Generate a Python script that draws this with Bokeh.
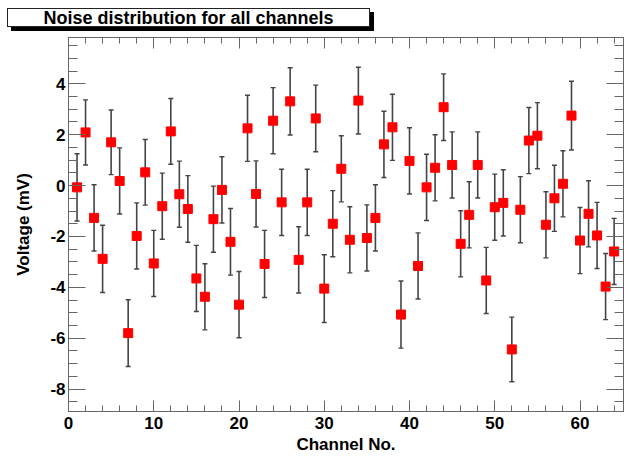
from bokeh.plotting import figure
from bokeh.layouts import column
from bokeh.models import (ColumnDataSource, Whisker, TeeHead, LinearAxis, SingleIntervalTicker,
                          Range1d, CustomJSTickFormatter, Div)
from bokeh.embed import file_html
from bokeh.resources import INLINE

# ---- data ----
channels = list(range(1, 65))
voltage = [-0.07, 2.09, -1.27, -2.88, 1.70, 0.18, -5.80, -1.98, 0.52, -3.06,
           -0.81, 2.13, -0.34, -0.92, -3.65, -4.37, -1.32, -0.17, -2.21, -4.68,
           2.25, -0.33, -3.08, 2.55, -0.66, 3.31, -2.92, -0.66, 2.64, -4.05,
           -1.50, 0.66, -2.13, 3.34, -2.06, -1.27, 1.62, 2.29, -5.07, 0.97,
           -3.16, -0.07, 0.70, 3.08, 0.81, -2.29, -1.15, 0.81, -3.73, -0.85,
           -0.68, -6.44, -0.95, 1.77, 1.96, -1.54, -0.50, 0.07, 2.75, -2.16,
           -1.11, -1.96, -3.97, -2.59]
errors = [1.32, 1.28, 1.30, 1.32, 1.27, 1.30, 1.31, 1.30, 1.29, 1.30,
          1.30, 1.29, 1.30, 1.31, 1.30, 1.30, 1.30, 1.30, 1.31, 1.30,
          1.30, 1.30, 1.32, 1.30, 1.30, 1.32, 1.30, 1.30, 1.31, 1.33,
          1.30, 1.30, 1.30, 1.31, 1.30, 1.30, 1.30, 1.30, 1.32, 1.30,
          1.30, 1.30, 1.30, 1.31, 1.30, 1.30, 1.30, 1.30, 1.30, 1.30,
          1.30, 1.27, 1.30, 1.30, 1.30, 1.30, 1.30, 1.30, 1.35, 1.30,
          1.30, 1.30, 1.30, 1.30]
title_text = "Noise distribution for all channels"
x_label = "Channel No."
y_label = "Voltage (mV)"

upper = [v + e for v, e in zip(voltage, errors)]
lower = [v - e for v, e in zip(voltage, errors)]
src = ColumnDataSource(dict(x=channels, y=voltage, upper=upper, lower=lower))

FONT = "Liberation Sans"
AX = "#666666"
W = 624

# ---- title box (ROOT-style pave with shadow) ----
title_html = (
    '<div style="margin-left:7px;margin-top:8px;width:363px;height:19px;'
    'border:1.3px solid #222;box-shadow:4px 4px 0 #000;background:#fff;'
    "font-family:'Liberation Sans';font-weight:bold;font-size:18px;"
    'line-height:19px;text-align:center;color:#000;white-space:nowrap;">'
    + title_text + '</div>'
)
t = Div(text=title_html, width=W, height=37, margin=0)

# ---- main plot ----
p = figure(output_backend="svg", toolbar_location=None, width=W, height=419,
           min_border_left=68, min_border_right=1, min_border_top=0, min_border_bottom=45,
           x_range=Range1d(0, 65.1), y_range=Range1d(-8.88, 5.82),
           x_axis_location=None, y_axis_location=None, margin=0)
p.background_fill_color = "white"
p.border_fill_color = "white"
p.outline_line_color = AX
p.outline_line_width = 1
p.xgrid.visible = False
p.ygrid.visible = False

fmt = CustomJSTickFormatter(code="return tick.toFixed(0)")


def style_axis(ax, tick_len, minor_len, labels=True):
    ax.axis_line_color = AX
    ax.major_tick_line_color = AX
    ax.minor_tick_line_color = AX
    ax.major_tick_in = tick_len
    ax.major_tick_out = 0
    ax.minor_tick_in = minor_len
    ax.minor_tick_out = 0
    ax.major_label_text_font = FONT
    ax.major_label_text_font_style = "bold"
    ax.major_label_text_font_size = "17px"
    ax.major_label_text_color = "black"
    ax.axis_label_text_font = FONT
    ax.axis_label_text_font_style = "bold"
    ax.axis_label_text_font_size = "17px"
    ax.axis_label_text_color = "black"
    if labels:
        ax.formatter = fmt
    else:
        ax.formatter = CustomJSTickFormatter(code="return ''")
        ax.major_label_text_font_size = "0px"
        ax.major_label_standoff = 0


xb = LinearAxis(ticker=SingleIntervalTicker(interval=10, num_minor_ticks=5), axis_label=x_label)
style_axis(xb, 11, 6)
xb.major_label_standoff = 5
xb.axis_label_standoff = 3
p.add_layout(xb, "below")

xt = LinearAxis(ticker=SingleIntervalTicker(interval=10, num_minor_ticks=5))
style_axis(xt, 11, 6, labels=False)
p.add_layout(xt, "above")

yl = LinearAxis(ticker=SingleIntervalTicker(interval=2, num_minor_ticks=4), axis_label=y_label)
style_axis(yl, 17, 9)
yl.major_label_standoff = 3
yl.axis_label_standoff = 14
p.add_layout(yl, "left")

yr = LinearAxis(ticker=SingleIntervalTicker(interval=2, num_minor_ticks=4))
style_axis(yr, 17, 9, labels=False)
p.add_layout(yr, "right")

# error bars
wh = Whisker(base="x", upper="upper", lower="lower", source=src,
             line_color="#444444", line_width=1.6,
             upper_head=TeeHead(size=5, line_color="#444444", line_width=1.4),
             lower_head=TeeHead(size=5, line_color="#444444", line_width=1.4))
p.add_layout(wh)

p.scatter("x", "y", source=src, marker="square", size=9, fill_color="#ff0000", line_color="#ff0000")

layout = column(t, p, spacing=0)
open("out.html", "w").write(file_html(layout, INLINE))
